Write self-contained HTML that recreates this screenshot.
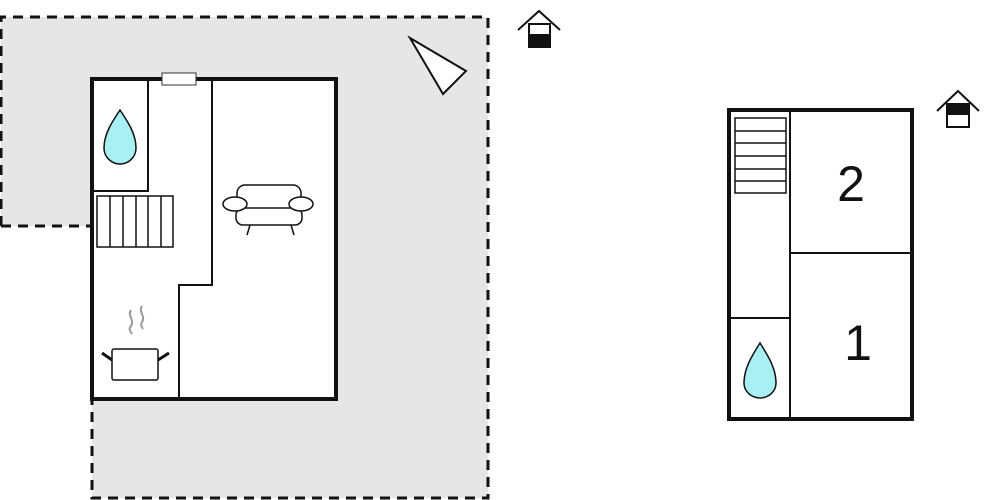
<!DOCTYPE html>
<html><head><style>body{margin:0;background:#fff}svg{display:block}</style></head><body>
<svg width="990" height="500" viewBox="0 0 990 500" xmlns="http://www.w3.org/2000/svg" font-family="Liberation Sans, sans-serif">
<path d="M1 17 H488 V498 H92 V226 H1 Z" fill="#e6e6e6"/>
<path d="M1 226 V17 H488 V498 H92 V399" fill="none" stroke="#111" stroke-width="3" stroke-dasharray="10,7"/>
<path d="M1 226 H92" fill="none" stroke="#111" stroke-width="3" stroke-dasharray="10,7"/>
<rect x="92" y="79" width="244" height="320" fill="#fff" stroke="#111" stroke-width="4"/>
<path d="M148 79 V191 H92 M212 79 V285 H179 V399" fill="none" stroke="#111" stroke-width="2"/>
<rect x="162" y="73" width="34" height="12" fill="#fff" stroke="#333" stroke-width="1"/>
<g fill="none" stroke="#111" stroke-width="1.5">
<rect x="97" y="196" width="76" height="51"/>
<path d="M110 196V247M123 196V247M136 196V247M148 196V247M161 196V247"/>
</g>
<path d="M120 110 C112 122 104 134 104 148 A16 16 0 0 0 136 148 C136 134 128 122 120 110 Z" fill="#a8f0f4" stroke="#111" stroke-width="1.5"/>
<g fill="#fff" stroke="#111" stroke-width="1.5">
<rect x="237" y="185" width="64" height="24" rx="8"/>
<rect x="236" y="208" width="66" height="17" rx="7"/>
<ellipse cx="235" cy="204" rx="12" ry="7"/>
<ellipse cx="301" cy="204" rx="12" ry="7"/>
<path d="M250 225 L247 235 M291 225 L294 235"/>
</g>
<g fill="#fff" stroke="#111" stroke-width="1.5">
<rect x="112" y="349" width="46" height="31" rx="2"/>
<path d="M112 360 L102 353 M158 360 L169 353" stroke-width="3"/>
</g>
<path d="M131 310 c-4 6 4 10 0 16 c-3 4 0 6 1 8 M142 306 c-4 6 4 10 0 16 c-2 3 0 5 1 7" fill="none" stroke="#999" stroke-width="2"/>
<path d="M410 38 L466 71 L443 94 Z" fill="#fff" stroke="#111" stroke-width="2"/>
<g stroke="#111" stroke-width="2" fill="#fff">
<path d="M518 30 L539 11 L560 30" fill="none"/>
<rect x="529" y="24" width="21" height="23"/>
<rect x="529" y="35" width="21" height="12" fill="#111"/>
</g>
<rect x="729" y="110" width="183" height="309" fill="#fff" stroke="#111" stroke-width="4"/>
<path d="M790 110 V419 M790 253 H912 M729 318 H790" stroke="#111" stroke-width="2"/>
<g fill="none" stroke="#111" stroke-width="1.5">
<rect x="735" y="118" width="51" height="75"/>
<path d="M735 131H786M735 143H786M735 156H786M735 169H786M735 181H786"/>
</g>
<path d="M760 343 C752 356 744 368 744 383 A16 15 0 0 0 776 383 C776 368 768 356 760 343 Z" fill="#a8f0f4" stroke="#111" stroke-width="1.5"/>
<text x="851" y="201" font-size="50" text-anchor="middle" fill="#111">2</text>
<text x="858" y="360" font-size="50" text-anchor="middle" fill="#111">1</text>
<g stroke="#111" stroke-width="2" fill="#fff">
<path d="M937 111 L958 91 L979 111" fill="none"/>
<rect x="947" y="104" width="22" height="23"/>
<rect x="947" y="104" width="22" height="10" fill="#111"/>
</g>
</svg>
</body></html>
